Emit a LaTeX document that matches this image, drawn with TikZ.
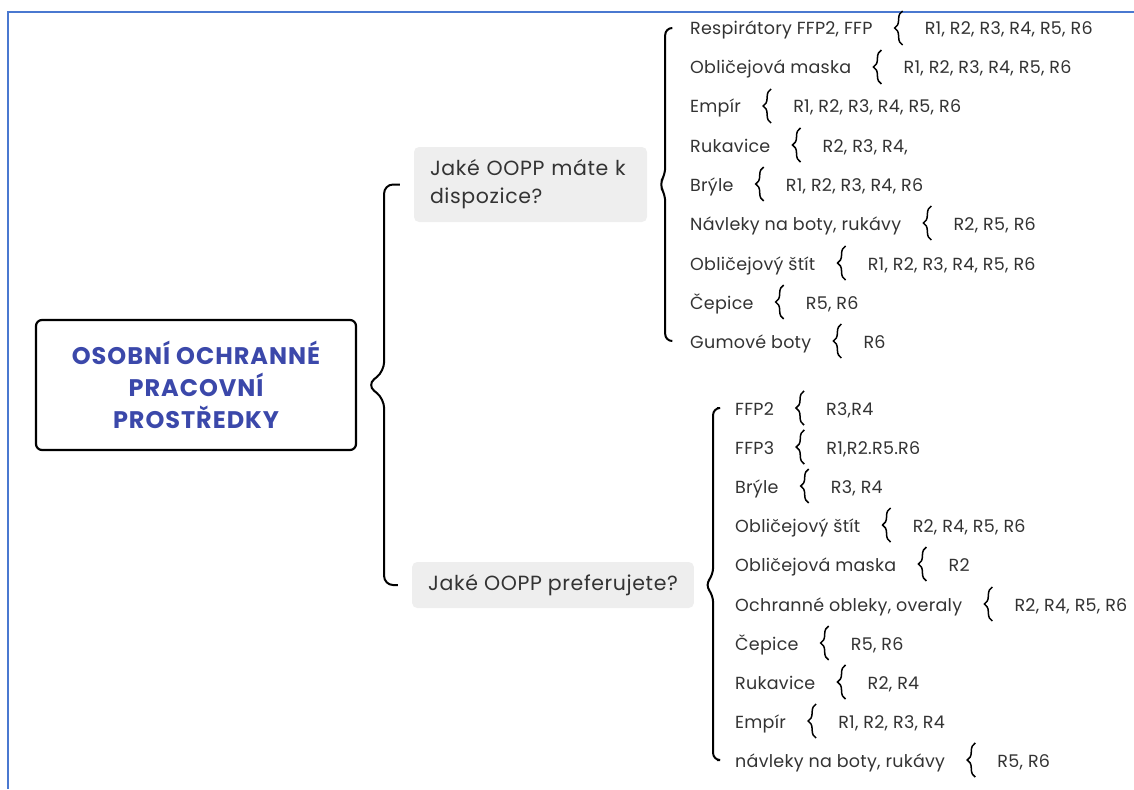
\documentclass[tikz,border=0pt]{standalone}
\usepackage{fontspec}
\setmainfont{Poppins}[LetterSpace=3]
\usetikzlibrary{positioning,calc,decorations.pathreplacing}

\definecolor{framecol}{HTML}{4A78D0}
\definecolor{rootcol}{HTML}{3B48AA}
\definecolor{textcol}{HTML}{333333}
\definecolor{qfill}{HTML}{EEEEEE}

\tikzset{
  item/.style={anchor=west, inner sep=0pt, text=textcol, text height=16pt, text depth=2pt,
    font=\fontsize{17.5}{20}\selectfont\addfontfeatures{LetterSpace=1.5}},
  val/.style={item, right=52pt of #1},
  question/.style={fill=qfill, rounded corners=5pt, text=textcol, align=left, inner xsep=16pt,
    font=\fontsize{20.5}{28}\selectfont},
  rootbox/.style={draw, line width=2.2pt, rounded corners=6pt, text=rootcol, align=center,
    minimum width=320pt, minimum height=130pt, font=\fontsize{24}{32}\selectfont\bfseries\addfontfeatures{LetterSpace=4}},
  bigbrace/.style={line width=2pt, rounded corners=9pt},
  smallbrace/.style={decorate, decoration={brace, amplitude=8pt}, line width=1.5pt}
}

\begin{document}
\begin{tikzpicture}[x=1pt, y=-1pt]
  \useasboundingbox (0,0) rectangle (1134,789);
  \draw[framecol, line width=1.6pt] (1134,12) -- (8,12) -- (8,789);

  % root and the two questions
  \node[rootbox] (root) at (196,385) {OSOBNÍ OCHRANNÉ\\PRACOVNÍ\\PROSTŘEDKY};
  \node[question, text width=201pt, minimum height=75pt] (q1) at (530.5,184.5) {Jaké OOPP máte k\\dispozice?};
  \node[question, minimum width=278pt, minimum height=46pt] (q2) at (553,585) {Jaké OOPP preferujete?};

  % which OOPP are available
  \node[item] (a1) at (690,28) {Respirátory FFP2, FFP};
  \node[item] (a2) at (690,67) {Obličejová maska};
  \node[item] (a3) at (690,106) {Empír};
  \node[item] (a4) at (690,145) {Rukavice};
  \node[item] (a5) at (690,184) {Brýle};
  \node[item] (a6) at (690,223) {Návleky na boty, rukávy};
  \node[item] (a7) at (690,263) {Obličejový štít};
  \node[item] (a8) at (690,302) {Čepice};
  \node[item] (a9) at (690,341) {Gumové boty};
  \node[val=a1] (ra1) {R1, R2, R3, R4, R5, R6};
  \node[val=a2] (ra2) {R1, R2, R3, R4, R5, R6};
  \node[val=a3] (ra3) {R1, R2, R3, R4, R5, R6};
  \node[val=a4] (ra4) {R2, R3, R4,};
  \node[val=a5] (ra5) {R1, R2, R3, R4, R6};
  \node[val=a6] (ra6) {R2, R5, R6};
  \node[val=a7] (ra7) {R1, R2, R3, R4, R5, R6};
  \node[val=a8] (ra8) {R5, R6};
  \node[val=a9] (ra9) {R6};

  % which OOPP are preferred
  \node[item] (b1) at (735,408) {FFP2};
  \node[item] (b2) at (735,447) {FFP3};
  \node[item] (b3) at (735,486) {Brýle};
  \node[item] (b4) at (735,525) {Obličejový štít};
  \node[item] (b5) at (735,564) {Obličejová maska};
  \node[item] (b6) at (735,604) {Ochranné obleky, overaly};
  \node[item] (b7) at (735,643) {Čepice};
  \node[item] (b8) at (735,682) {Rukavice};
  \node[item] (b9) at (735,721) {Empír};
  \node[item] (b10) at (735,760) {návleky na boty, rukávy};
  \node[val=b1] (rb1) {R3,R4};
  \node[val=b2] (rb2) {R1,R2.R5.R6};
  \node[val=b3] (rb3) {R3, R4};
  \node[val=b4] (rb4) {R2, R4, R5, R6};
  \node[val=b5] (rb5) {R2};
  \node[val=b6] (rb6) {R2, R4, R5, R6};
  \node[val=b7] (rb7) {R5, R6};
  \node[val=b8] (rb8) {R2, R4};
  \node[val=b9] (rb9) {R1, R2, R3, R4};
  \node[val=b10] (rb10) {R5, R6};

  % big braces
  \draw[bigbrace] ([xshift=-14pt]q1.west) -| ($(root.east)+(27,-14)$) -- ($(root.east)+(10,0)$)
    -- ($(root.east)+(27,14)$) |- ([xshift=-14pt]q2.west);
  \draw[bigbrace, rounded corners=7pt] ([xshift=-18pt]a1.west) -| ($(q1.east)+(18,-10)$) -- ($(q1.east)+(12,0)$)
    -- ($(q1.east)+(18,10)$) |- ([xshift=-18pt]a9.west);
  \draw[bigbrace, rounded corners=7pt] ([xshift=-18pt]b1.west) -| ($(q2.east)+(19,-10)$) -- ($(q2.east)+(11,0)$)
    -- ($(q2.east)+(19,10)$) |- ([xshift=-18pt]b10.west);

  % small braces
  \draw[smallbrace] ([xshift=30pt,yshift=-17pt]a1.east) -- ([xshift=30pt,yshift=17pt]a1.east);
  \draw[smallbrace] ([xshift=30pt,yshift=-17pt]a2.east) -- ([xshift=30pt,yshift=17pt]a2.east);
  \draw[smallbrace] ([xshift=30pt,yshift=-17pt]a3.east) -- ([xshift=30pt,yshift=17pt]a3.east);
  \draw[smallbrace] ([xshift=30pt,yshift=-17pt]a4.east) -- ([xshift=30pt,yshift=17pt]a4.east);
  \draw[smallbrace] ([xshift=30pt,yshift=-17pt]a5.east) -- ([xshift=30pt,yshift=17pt]a5.east);
  \draw[smallbrace] ([xshift=30pt,yshift=-17pt]a6.east) -- ([xshift=30pt,yshift=17pt]a6.east);
  \draw[smallbrace] ([xshift=30pt,yshift=-17pt]a7.east) -- ([xshift=30pt,yshift=17pt]a7.east);
  \draw[smallbrace] ([xshift=30pt,yshift=-17pt]a8.east) -- ([xshift=30pt,yshift=17pt]a8.east);
  \draw[smallbrace] ([xshift=30pt,yshift=-17pt]a9.east) -- ([xshift=30pt,yshift=17pt]a9.east);
  \draw[smallbrace] ([xshift=30pt,yshift=-17pt]b1.east) -- ([xshift=30pt,yshift=17pt]b1.east);
  \draw[smallbrace] ([xshift=30pt,yshift=-17pt]b2.east) -- ([xshift=30pt,yshift=17pt]b2.east);
  \draw[smallbrace] ([xshift=30pt,yshift=-17pt]b3.east) -- ([xshift=30pt,yshift=17pt]b3.east);
  \draw[smallbrace] ([xshift=30pt,yshift=-17pt]b4.east) -- ([xshift=30pt,yshift=17pt]b4.east);
  \draw[smallbrace] ([xshift=30pt,yshift=-17pt]b5.east) -- ([xshift=30pt,yshift=17pt]b5.east);
  \draw[smallbrace] ([xshift=30pt,yshift=-17pt]b6.east) -- ([xshift=30pt,yshift=17pt]b6.east);
  \draw[smallbrace] ([xshift=30pt,yshift=-17pt]b7.east) -- ([xshift=30pt,yshift=17pt]b7.east);
  \draw[smallbrace] ([xshift=30pt,yshift=-17pt]b8.east) -- ([xshift=30pt,yshift=17pt]b8.east);
  \draw[smallbrace] ([xshift=30pt,yshift=-17pt]b9.east) -- ([xshift=30pt,yshift=17pt]b9.east);
  \draw[smallbrace] ([xshift=30pt,yshift=-17pt]b10.east) -- ([xshift=30pt,yshift=17pt]b10.east);
\end{tikzpicture}
\end{document}
